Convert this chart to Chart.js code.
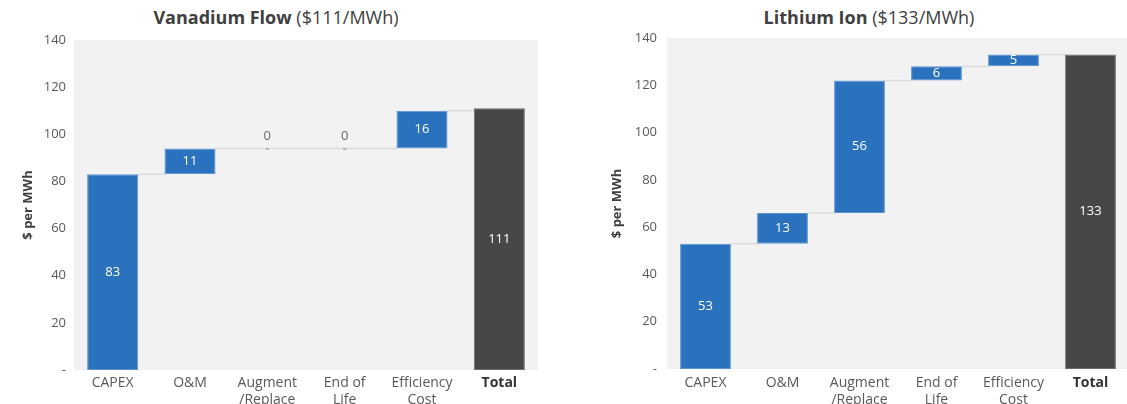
<!DOCTYPE html>
<html>
<head>
<meta charset="utf-8">
<script src="https://cdn.jsdelivr.net/npm/chart.js@4.4.1/dist/chart.umd.min.js"></script>
<style>
  html, body { margin: 0; padding: 0; background: #fff; overflow: hidden; width: 1127px; height: 404px; }
  .title { position: absolute; top: 5px; font-family: 'Open Sans', sans-serif; font-size: 18px; color: #404040; white-space: nowrap; transform: translateX(-50%); }
  .title b { font-weight: 700; }
  canvas { position: absolute; top: 0; }
</style>
</head>
<body>
<div class="title" style="left:276px"><b>Vanadium Flow</b> ($111/MWh)</div>
<div class="title" style="left:869px"><b>Lithium Ion</b> ($133/MWh)</div>
<canvas id="vanadiumChart" width="538" height="420" style="left:0"></canvas>
<canvas id="lithiumChart" width="539" height="420" style="left:590px"></canvas>
<script>
const categories = ['CAPEX', 'O&M', ['Augment', '/Replace'], ['End of', 'Life'], ['Efficiency', 'Cost'], 'Total'];
const vanadiumSteps = [83, 11, 0, 0, 16];
const vanadiumTotal = 111;
const lithiumSteps = [53, 13, 56, 6, 5];
const lithiumTotal = 133;
const yMin = 0, yMax = 140, yStep = 20;

const FONT = "'Open Sans', sans-serif";
const BLUE = '#2a72be';
const DARK = '#474747';

// floating bars: each step starts where the previous one ended, total starts at 0
const buildWaterfall = (steps, total) => {
    let run = 0;
    const bars = steps.map(v => { const b = [run, run + v]; run += v; return b; });
    bars.push([0, total]);
    return bars;
};

const plotBackground = {
    id: 'plotBackground',
    beforeDraw(chart) {
        const { ctx, chartArea: a } = chart;
        ctx.save();
        ctx.fillStyle = '#f2f2f2';
        ctx.fillRect(a.left, a.top, a.right - a.left, a.bottom - a.top);
        ctx.restore();
    }
};

const connectorLines = {
    id: 'connectorLines',
    beforeDatasetsDraw(chart) {
        const { ctx } = chart;
        const meta = chart.getDatasetMeta(0);
        const bars = chart.data.datasets[0].data;
        const yScale = chart.scales.y;
        ctx.save();
        ctx.strokeStyle = '#dcdcdc';
        ctx.lineWidth = 1.5;
        for (let i = 0; i < meta.data.length - 1; i++) {
            const bar = meta.data[i], next = meta.data[i + 1];
            const zero = bars[i][0] === bars[i][1];
            const y = yScale.getPixelForValue(bars[i][1]);
            ctx.beginPath();
            ctx.moveTo(zero ? bar.x - bar.width / 2 : bar.x + bar.width / 2, y);
            ctx.lineTo(next.x - next.width / 2, y);
            ctx.stroke();
            if (zero) {
                ctx.fillStyle = '#b4b4b4';
                ctx.fillRect(bar.x - 1.5, y - 0.5, 3, 2);
            }
        }
        ctx.restore();
    }
};

const barLabels = {
    id: 'barLabels',
    afterDatasetsDraw(chart) {
        const { ctx } = chart;
        const meta = chart.getDatasetMeta(0);
        const values = chart.data.datasets[0].values;
        ctx.save();
        ctx.font = `13px ${FONT}`;
        ctx.textAlign = 'center';
        ctx.textBaseline = 'middle';
        meta.data.forEach((bar, i) => {
            if (values[i] === 0) {
                ctx.fillStyle = '#666';
                ctx.fillText('0', bar.x, bar.y - 12);
            } else {
                ctx.fillStyle = '#fff';
                ctx.fillText(String(values[i]), bar.x, (bar.y + bar.base) / 2);
            }
        });
        ctx.restore();
    }
};

const makeWaterfall = (id, steps, total, lay) => {
    const bars = buildWaterfall(steps, total);
    const last = bars.length - 1;
    return new Chart(document.getElementById(id), {
        type: 'bar',
        data: {
            labels: categories,
            datasets: [{
                data: bars,
                values: [...steps, total],
                backgroundColor: bars.map((b, i) => i === last ? DARK : BLUE),
                borderColor: bars.map((b, i) => i === last ? '#6b6b6b' : '#5c93cf'),
                borderWidth: 1,
                borderSkipped: false,
                barPercentage: 0.66,
                categoryPercentage: 1
            }]
        },
        options: {
            responsive: false,
            animation: false,
            devicePixelRatio: 1,
            layout: { padding: { top: lay.top, right: 0, bottom: 0, left: 0 } },
            plugins: { legend: { display: false }, tooltip: { enabled: false } },
            scales: {
                x: {
                    offset: true,
                    grid: { display: false, drawTicks: false },
                    border: { display: false },
                    ticks: {
                        padding: lay.xPad,
                        maxRotation: 0,
                        autoSkip: false,
                        color: ctx => ctx.index === last ? '#333' : '#595959',
                        font: ctx => ({ family: FONT, size: 14, weight: ctx.index === last ? 'bold' : 'normal' })
                    },
                    afterFit: s => { s.height = lay.xHeight; }
                },
                y: {
                    min: yMin,
                    max: yMax,
                    grid: { display: false, drawTicks: false },
                    border: { display: false },
                    ticks: {
                        stepSize: yStep,
                        padding: lay.yPad,
                        color: '#595959',
                        font: { family: FONT, size: 13 },
                        callback: v => v === 0 ? '-' : v
                    },
                    title: {
                        display: true,
                        text: '$ per MWh',
                        color: '#404040',
                        font: { family: FONT, size: 13, weight: 'bold' },
                        padding: { top: lay.titlePad, bottom: 0 }
                    },
                    afterFit: s => { s.width = lay.yWidth; }
                }
            }
        },
        plugins: [plotBackground, connectorLines, barLabels]
    });
};

makeWaterfall('vanadiumChart', vanadiumSteps, vanadiumTotal, { top: 40, xHeight: 50, xPad: 5, yPad: 8, yWidth: 74, titlePad: 20 });
makeWaterfall('lithiumChart', lithiumSteps, lithiumTotal, { top: 38, xHeight: 51, xPad: 6, yPad: 10, yWidth: 77, titlePad: 19 });
</script>
</body>
</html>
